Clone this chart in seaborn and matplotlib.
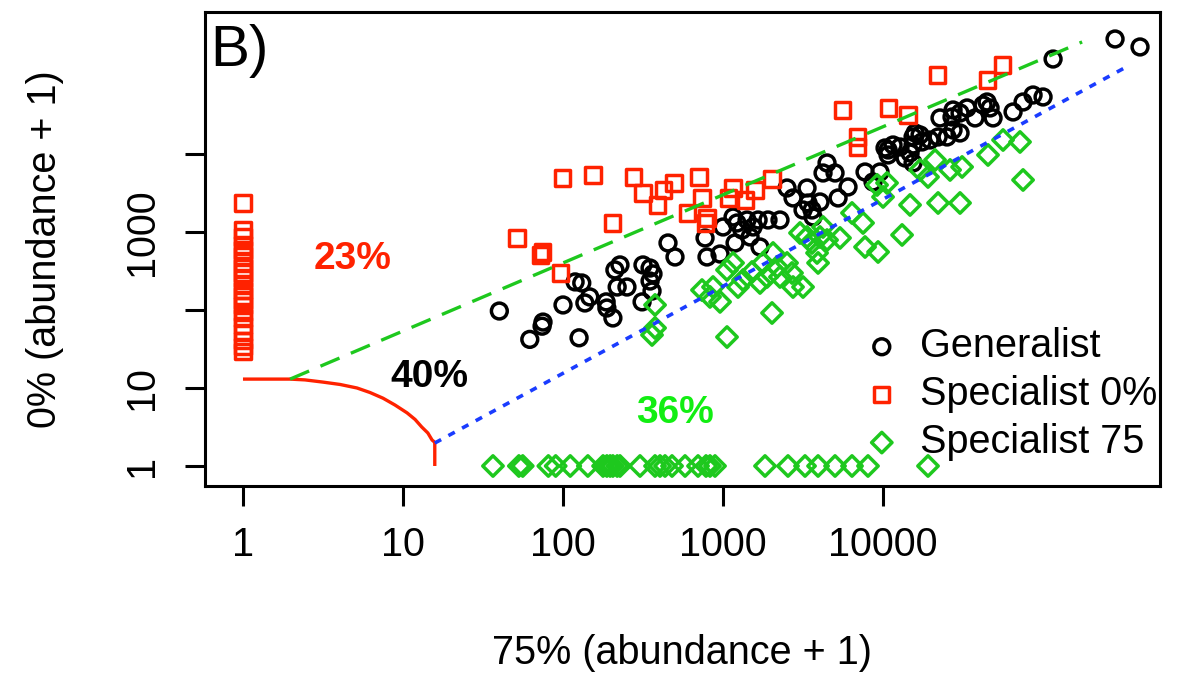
import matplotlib
matplotlib.use("Agg")
import matplotlib.pyplot as plt
import pandas as pd
import seaborn as sns
from matplotlib.ticker import FixedLocator, FixedFormatter, NullLocator

# ---------------- data (abundance + 1) ----------------
gen_x = [40, 62, 75, 74, 100, 126, 119, 131, 137, 147,
         186, 188, 205, 211, 227, 218, 251, 312, 316, 350,
         365, 350, 360, 453, 501, 772, 794, 958, 1000, 1155,
         1223, 1315, 1413, 1476, 1540, 1656, 1703, 1189, 1910, 2270,
         2512, 2738, 3350, 3397, 3162, 3597, 3652, 4037, 4467, 4217,
         5012, 5236, 6040, 7718, 9572, 8660, 10750, 12770, 15400, 14750,
         15400, 11550, 10290, 10750, 13730, 15400, 17530, 15850, 17030, 19660,
         22080, 22700, 25120, 27380, 30280, 26980, 27380, 30280, 33500, 37580,
         42170, 46650, 44670, 48700, 64940, 74990, 86600, 100000, 115500, 281800,
         403600]
gen_y = [97, 42, 70, 62, 116, 44, 229, 222, 123, 147,
         127, 106, 79, 326, 378, 197, 197, 127, 378, 345,
         290, 235, 175, 723, 478, 838, 478, 522, 1159, 1557,
         1304, 1061, 1425, 863, 1159, 1425, 642, 723, 1425, 1425,
         3664, 2729, 3664, 2354, 1914, 1914, 1557, 2426, 7674, 5706,
         5706, 2729, 3776, 5875, 5875, 4375, 11250, 12300, 16520, 10300,
         7674, 13040, 11940, 9710, 8890, 13040, 14260, 18580, 17530, 15110,
         16520, 28960, 16520, 20300, 18580, 29790, 36640, 33560, 38900, 28960,
         42500, 38900, 46400, 28960, 34550, 46400, 57050, 53800, 165000, 298000,
         235500]

sp0_x = [1, 1, 1, 1, 1, 1, 1, 1, 1, 1, 1, 1, 1, 1, 1, 1, 1, 1, 1, 1, 1, 1,
         51.6, 74, 72, 96, 99, 154, 205, 274, 316, 387,
         422, 494, 708, 739, 596, 794, 772, 1155, 1373, 1585,
         2024, 1075, 6879, 6879, 5546, 10750, 14320, 21750, 44670, 55460]
sp0_y = [2354, 1061, 863, 681, 588, 492, 412, 345, 298, 250, 215, 180, 151,
         134, 113, 94, 79, 64, 51, 41, 34, 29,
         838, 554, 507, 298, 4920, 5380, 1304, 5070, 3162, 2220,
         3455, 4250, 5070, 2729, 1753, 1512, 1304, 3664, 2572, 3455,
         4780, 2729, 16520, 12300, 36640, 38900, 31620, 103000, 88900, 138400]

sp75_x = [36.5, 53, 56, 81, 90, 111, 143, 178, 188, 197, 205, 218, 227, 303,
          376, 404, 434, 480, 579, 698, 783, 829, 891, 1830, 2547, 3254, 3926,
          5012, 6397, 8054, 19100,
          376, 376, 360, 739, 829, 958, 1059, 1059, 866, 1155,
          1241, 1334, 1518, 1703, 1778, 1884, 2024, 2054, 2175, 2270,
          2512, 2698, 2738, 3162, 3028, 3350, 3597, 3869, 4037, 4217,
          4467, 3926, 5383, 6397, 7499, 7718, 9311, 9173, 10590, 10000,
          14750, 13150, 71780, 56230, 45290, 74990, 31190, 26240, 21130, 19100,
          17030, 22080, 30280]
sp75_y = [1, 1, 1, 1, 1, 1, 1, 1, 1, 1, 1, 1, 1, 1, 1, 1, 1, 1, 1, 1, 1, 1,
          1, 1, 1, 1, 1, 1, 1, 1, 1,
          116, 58.8, 47.8, 180, 147, 127, 45, 326, 197, 401,
          197, 242, 307, 222, 401, 265, 91.5, 538, 356, 265,
          401, 298, 197, 197, 971, 863, 723, 538, 863, 1159,
          789, 401, 838, 1753, 1304, 642, 554, 4006, 4250, 2812,
          2220, 916, 14260, 15110, 9710, 4642, 6813, 6237, 8380, 5070,
          6237, 2354, 2354]

# boundary curve and the two reference lines
curve_x = [1, 1.97, 2.44, 3.16, 4.04, 5.16, 6.22, 7.5, 8.91, 10.6, 11.9,
           13.1, 14.3, 15.2, 15.6, 15.8, 15.8]
curve_y = [13.0, 13.0, 12.7, 11.9, 11.1, 10.0, 8.75, 7.4, 6.05, 4.8, 3.95,
           3.16, 2.65, 2.15, 2.06, 1.97, 1.0]
upper_x = [1.97, 175400]
upper_y = [13.0, 272900]
lower_x = [15.8, 339800]
lower_y = [1.97, 134300]

group_labels = ["Generalist", "Specialist 0%", "Specialist 75"]
pct_labels = ["23%", "40%", "36%"]
pct_x = [4.87, 14.7, 501]
pct_y = [451, 13.8, 4.71]

x_ticks = [1, 10, 100, 1000, 10000]
x_ticklabels = ["1", "10", "100", "1000", "10000"]
y_ticks = [1, 10, 100, 1000, 10000]
y_ticklabels = ["1", "10", "", "1000", ""]

# ---------------- styling ----------------
BLACK = "#000000"
RED = "#ff2200"
GREEN = "#1ec81e"
BRIGHT_GREEN = "#12ee12"
BLUE = "#1a3cff"
FS = 28.5

sns.set_theme(style="white")
plt.rcParams["font.family"] = ["Liberation Sans", "DejaVu Sans"]

df = pd.concat([
    pd.DataFrame({"x": gen_x, "y": gen_y, "group": group_labels[0]}),
    pd.DataFrame({"x": sp0_x, "y": sp0_y, "group": group_labels[1]}),
    pd.DataFrame({"x": sp75_x, "y": sp75_y, "group": group_labels[2]}),
], ignore_index=True)

W, H = 1184, 673
fig = plt.figure(figsize=(W / 100, H / 100), dpi=100)
L, R, T, B = 205, 1160, 12, 486
ax = fig.add_axes([L / W, 1 - B / H, (R - L) / W, (B - T) / H])
ax.set_xscale("log")
ax.set_yscale("log")
ax.set_xlim(0.579, 538000)
ax.set_ylim(0.554, 661000)

styles = {
    group_labels[0]: dict(marker="o", color=BLACK, s=130),
    group_labels[1]: dict(marker="s", color=RED, s=118),
    group_labels[2]: dict(marker="D", color=GREEN, s=108),
}
for g in group_labels:
    st = styles[g]
    sub = df[df["group"] == g]
    sns.scatterplot(x=sub["x"], y=sub["y"], ax=ax, marker=st["marker"],
                    s=st["s"], color=st["color"], facecolor="none",
                    edgecolor=st["color"], linewidth=2.5, label=g, zorder=2)

ax.plot(curve_x, curve_y, color=RED, lw=2.4, zorder=3, solid_capstyle="butt",
        solid_joinstyle="round")
ax.plot(upper_x, upper_y, color=GREEN, lw=2.4, zorder=3,
        linestyle=(0, (6.2, 3.7)))
ax.plot(lower_x, lower_y, color=BLUE, lw=2.6, zorder=3,
        linestyle=(0, (2.0, 2.3)))

pct_colors = [RED, BLACK, BRIGHT_GREEN]
for t, px, py, c in zip(pct_labels, pct_x, pct_y, pct_colors):
    ax.text(px, py, t, color=c, fontsize=28, fontweight="bold",
            ha="center", va="center", zorder=4)

ax.text(0.005, 0.918, "B)", transform=ax.transAxes, fontsize=42,
        ha="left", va="center", color=BLACK)

# axes, ticks
ax.xaxis.set_major_locator(FixedLocator(x_ticks))
ax.xaxis.set_major_formatter(FixedFormatter(x_ticklabels))
ax.yaxis.set_major_locator(FixedLocator(y_ticks))
ax.yaxis.set_major_formatter(FixedFormatter(y_ticklabels))
ax.xaxis.set_minor_locator(NullLocator())
ax.yaxis.set_minor_locator(NullLocator())
ax.tick_params(axis="both", which="major", direction="out", length=14.4,
               width=2.2, colors=BLACK, labelsize=FS, left=True, bottom=True)
ax.tick_params(axis="x", pad=14.5)
ax.tick_params(axis="y", pad=17.5, labelrotation=90)
for lbl in ax.get_yticklabels():
    lbl.set_va("center")
for sp in ax.spines.values():
    sp.set_visible(True)
    sp.set_color(BLACK)
    sp.set_linewidth(2.2)

ax.set_xlabel("75% (abundance + 1)", fontsize=FS, color=BLACK, va="center")
ax.set_ylabel("0% (abundance + 1)", fontsize=FS, color=BLACK, va="center")
ax.xaxis.set_label_coords(0.5, -0.353)
ax.yaxis.set_label_coords(-0.1675, 0.5)

leg = ax.legend(loc="center left", bbox_to_anchor=(0.689, 0.194),
                frameon=False, fontsize=FS, handlelength=0.95,
                handletextpad=0.5, borderpad=0, borderaxespad=0,
                labelspacing=0.25, scatterpoints=1)
for txt in leg.get_texts():
    txt.set_color(BLACK)

fig.savefig("out.png", dpi=100)
